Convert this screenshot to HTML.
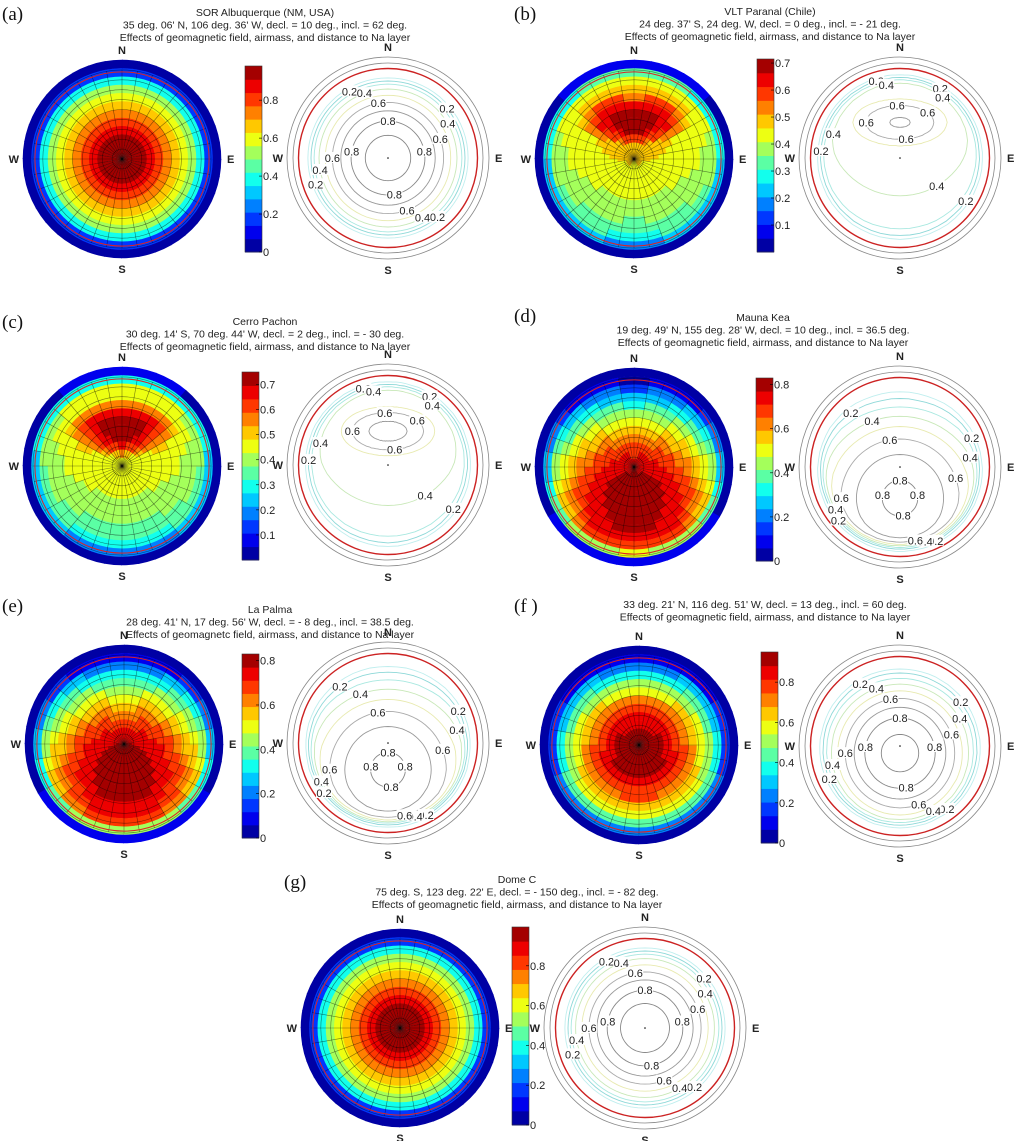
<!DOCTYPE html>
<html><head><meta charset="utf-8"><style>
html,body{margin:0;padding:0;background:#fff;}
svg{display:block;font-family:"Liberation Sans",sans-serif;}
</style></head><body>
<svg id="fig" width="1028" height="1141" viewBox="0 0 1028 1141"></svg>
<script>
// ---- data ----
const panelIds = ['a','b','c','d','e','f','g'];
const titleLine1 = ['SOR Albuquerque (NM, USA)','VLT Paranal (Chile)','Cerro Pachon','Mauna Kea','La Palma','','Dome C'];
const titleLine2 = ["35 deg. 06' N, 106 deg. 36' W, decl. = 10 deg., incl. = 62 deg.",
 "24 deg. 37' S, 24 deg. W, decl. = 0 deg., incl. = - 21 deg.",
 "30 deg. 14' S, 70 deg. 44' W, decl. = 2 deg., incl. = - 30 deg.",
 "19 deg. 49' N, 155 deg. 28' W, decl. = 10 deg., incl. = 36.5 deg.",
 "28 deg. 41' N, 17 deg. 56' W, decl. = - 8 deg., incl. = 38.5 deg.",
 "33 deg. 21' N, 116 deg. 51' W, decl. = 13 deg., incl. = 60 deg.",
 "75 deg. S, 123 deg. 22' E, decl. = - 150 deg., incl. = - 82 deg."];
const titleLine3 = ['Effects of geomagnetic field, airmass, and distance to Na layer','Effects of geomagnetic field, airmass, and distance to Na layer','Effects of geomagnetic field, airmass, and distance to Na layer','Effects of geomagnetic field, airmass, and distance to Na layer','Effects of geomagnetc field, airmass, and distance to Na layer','Effects of geomagnetic field, airmass, and distance to Na layer','Effects of geomagnetic field, airmass, and distance to Na layer'];
const peakY = [0, -0.4, -0.38, 0.35, 0.3, 0.08, 0];
const peakMax = [0.96, 0.71, 0.74, 0.82, 0.82, 0.94, 0.97];
const floorFrac = [0, 0.68, 0.66, 0, 0, 0, 0];
const floorSlope = [0, 0.17, 0.17, 0, 0, 0, 0];
const xStretch = [1, 2.0, 1.9, 1, 1, 1, 1];
const falloff = [0.95, 4.2, 4.2, 0.6, 0.62, 0.95, 0.95];
const cbMax = [0.98, 0.715, 0.75, 0.83, 0.83, 0.95, 0.995];
const cbTicks = [[0,0.2,0.4,0.6,0.8],[0.1,0.2,0.3,0.4,0.5,0.6,0.7],[0.1,0.2,0.3,0.4,0.5,0.6,0.7],[0,0.2,0.4,0.6,0.8],[0,0.2,0.4,0.6,0.8],[0,0.2,0.4,0.6,0.8],[0,0.2,0.4,0.6,0.8]];
const contourLevels = [0.1,0.2,0.3,0.4,0.5,0.6,0.7,0.8,0.9];
const labelLevels = [0.2,0.4,0.6,0.8];
// ---- layout ----
const L = [
 {lx:2,ly:20,tx:265,ty:12,hx:122,hy:159,bx:245,by0:66,by1:252,kx:388,ky:158},
 {lx:514,ly:20,tx:770,ty:11,hx:634,hy:159,bx:757,by0:59,by1:252,kx:900,ky:158},
 {lx:2,ly:328,tx:265,ty:321,hx:122,hy:466,bx:242,by0:372,by1:560,kx:388,ky:465},
 {lx:514,ly:322,tx:763,ty:317,hx:634,hy:467,bx:756,by0:378,by1:561,kx:900,ky:467},
 {lx:2,ly:612,tx:270,ty:609,hx:124,hy:744,bx:242,by0:654,by1:838,kx:388,ky:743},
 {lx:514,ly:612,tx:765,ty:604,hx:639,hy:745,bx:761,by0:652,by1:843,kx:900,ky:746},
 {lx:284,ly:888,tx:517,ty:879,hx:400,hy:1028,bx:512,by0:927,by1:1125,kx:645,ky:1028}
];
const HR=99, CR=101, NS='http://www.w3.org/2000/svg';
const svg=document.getElementById('fig');
function mk(tag,attrs,parent){const e=document.createElementNS(NS,tag);for(const k in attrs)e.setAttribute(k,attrs[k]);(parent||svg).appendChild(e);return e;}
function jet(t){t=Math.max(0,Math.min(1,t));
 const r=Math.max(0,Math.min(1,1.5-Math.abs(4*t-3))),g=Math.max(0,Math.min(1,1.5-Math.abs(4*t-2))),b=Math.max(0,Math.min(1,1.5-Math.abs(4*t-1)));
 return `rgb(${Math.round(r*255)},${Math.round(g*255)},${Math.round(b*255)})`;}
const NB=14;
function qcol(v,max){let q=Math.floor(v/max*NB);q=Math.max(0,Math.min(NB-1,q));return jet((q+0.5)/NB);}
function field(i,x,y){const r=Math.sqrt(x*x+y*y);const dy=y-peakY[i];const dx=x/xStretch[i];
 const d2=dx*dx+dy*dy;const d2r=x*x+dy*dy;
 const f=Math.max(1-falloff[i]*d2, floorFrac[i]-floorSlope[i]*d2r, 0);
 const edge=1/(1+Math.exp((r-0.9)/0.03));return peakMax[i]*f*edge;}
function sector(cx,cy,r0,r1,a0,a1){const p=(r,a)=>[cx+r*Math.cos(a),cy+r*Math.sin(a)];
 const A=p(r1,a0),B=p(r1,a1),C=p(r0,a1),D=p(r0,a0);
 return `M${A[0]},${A[1]}A${r1},${r1} 0 0 1 ${B[0]},${B[1]}L${C[0]},${C[1]}`+(r0>0?`A${r0},${r0} 0 0 0 ${D[0]},${D[1]}`:'')+'Z';}
function compass(g,cx,cy,R,pfx){
 const t=[['N',cx,cy-R-6,'middle'],['S',cx,cy+R+15,'middle'],['W',cx-R-4,cy+4,'end'],['E',cx+R+6,cy+4,'start']];
 t.forEach(([s,x,y,a])=>{const e=mk('text',{x,y,'text-anchor':a,'font-size':11,'font-weight':'bold',fill:'#222'},g);e.textContent=s;
 
 });}
panelIds.forEach((id,i)=>{
 const o=L[i];
 const g=mk('g',{});
 
 
 const lab=mk('text',{x:o.lx,y:o.ly,'font-family':'"Liberation Serif",serif','font-size':19,fill:'#111'},g);lab.textContent='('+id+(id==='f'?' )':')');
 
 
 const lines=[titleLine1[i],titleLine2[i],titleLine3[i]].filter(s=>s);
 lines.forEach((s,k)=>{const t=mk('text',{x:o.tx,y:o.ty+4+k*12.5,'text-anchor':'middle','font-size':10.5,fill:'#222'},g);t.textContent=s;
  
  });
 // heatmap
 const hm=mk('g',{},g);
 
 
 const NR=12,NA=36;
 for(let ri=0;ri<NR;ri++)for(let ai=0;ai<NA;ai++){
  const rm=(ri+0.5)/NR,am=(ai+0.5)/NA*2*Math.PI;
  const v=field(i,rm*Math.cos(am),rm*Math.sin(am));
  const c=mk('path',{d:sector(o.hx,o.hy,ri/NR*HR,(ri+1)/NR*HR+0.3,ai/NA*2*Math.PI,(ai+1.05)/NA*2*Math.PI),fill:qcol(v,cbMax[i])},hm);
  
  
 }
 const GR=0.9*HR;
 for(let k=1;k<=9;k++)mk('circle',{cx:o.hx,cy:o.hy,r:GR*k/9,fill:'none',stroke:'#000','stroke-opacity':0.5,'stroke-width':0.6},hm);
 for(let a=0;a<36;a++){const an=a/36*2*Math.PI;mk('line',{x1:o.hx,y1:o.hy,x2:o.hx+GR*Math.cos(an),y2:o.hy+GR*Math.sin(an),stroke:'#000','stroke-opacity':0.5,'stroke-width':0.6},hm);}
 mk('circle',{cx:o.hx,cy:o.hy,r:0.88*HR,fill:'none',stroke:'#d22','stroke-width':1},hm);
 compass(g,o.hx,o.hy,HR,'heatmap');
 // colorbar
 const cb=mk('g',{},g);
 
 
 const H=o.by1-o.by0,W=17;
 for(let q=0;q<NB;q++){mk('rect',{x:o.bx,y:o.by1-(q+1)/NB*H,width:W,height:H/NB+0.5,fill:jet((q+0.5)/NB)},cb);}
 mk('rect',{x:o.bx,y:o.by0,width:W,height:H,fill:'none',stroke:'#333','stroke-width':0.6},cb);
 cbTicks[i].forEach(t=>{const y=o.by1-t/cbMax[i]*H;
  mk('line',{x1:o.bx+W-3,x2:o.bx+W,y1:y,y2:y,stroke:'#000','stroke-width':0.6},cb);
  const e=mk('text',{x:o.bx+W+1,y:y+4,'font-size':11,fill:'#222'},cb);e.textContent=String(t);
  
  });
 // contour plot
 const cp=mk('g',{},g);
 
 
 [CR,CR-6].forEach(r=>mk('circle',{cx:o.kx,cy:o.ky,r,fill:'none',stroke:'#888','stroke-width':0.8},cp));
 mk('circle',{cx:o.kx,cy:o.ky,r:CR-11.5,fill:'none',stroke:'#c22','stroke-width':1.4},cp);
 const S=CR-12;
 const ccol={0.1:'#bfeeee',0.2:'#8ed8d8',0.3:'#a8e8e0',0.4:'#c8e8b8',0.5:'#e8eab0',0.6:'#aaaaaa',0.7:'#999',0.8:'#888',0.9:'#888'};
 const labels=[];
 contourLevels.forEach(lev=>{
  if(field(i,0,peakY[i])<lev)return;
  const pts=[];
  for(let a=0;a<=72;a++){const an=a/72*2*Math.PI;let t=0,x=0,y=peakY[i];
   while(t<2){const nx=t*Math.cos(an),ny=peakY[i]+t*Math.sin(an);if(nx*nx+ny*ny>=0.995||field(i,nx,ny)<lev)break;x=nx;y=ny;t+=0.005;}
   pts.push([o.kx+x*S,o.ky+y*S]);}
  const p=mk('path',{d:'M'+pts.map(q=>q[0].toFixed(1)+','+q[1].toFixed(1)).join('L')+'Z',fill:'none',stroke:ccol[lev],'stroke-width':0.9},cp);
  
  
  if(labelLevels.includes(lev)){[8,30,46,62].forEach((k,j)=>{const q=pts[(k+Math.round(lev*10))%72];labels.push([q[0],q[1],lev]);});}
 });
 labels.forEach(([x,y,lev])=>{mk('rect',{x:x-8,y:y-6,width:16,height:11,fill:'#fff'},cp);
  const e=mk('text',{x,y:y+4,'text-anchor':'middle','font-size':11,fill:'#222'},cp);e.textContent=String(lev);
  
  });
 mk('circle',{cx:o.kx,cy:o.ky,r:0.8,fill:'#000'},cp);
 compass(g,o.kx,o.ky,CR,'contour');
});
</script>
</body></html>
